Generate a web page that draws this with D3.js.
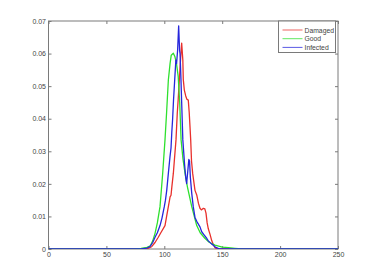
<!DOCTYPE html>
<html><head><meta charset="utf-8">
<script src="https://cdn.jsdelivr.net/npm/d3@7"></script>
<style>body{margin:0;background:#fff}svg{display:block}text{font-family:"Liberation Sans",Arial,sans-serif}</style>
</head><body><svg id="c" width="374" height="280"></svg>
<script>
const seriesNames = ["Damaged", "Good", "Infected"];
const seriesColors = ["#e8302c", "#2ee02e", "#2626dc"];
const xTicks = [0, 50, 100, 150, 200, 250];
const yTicks = [0, 0.01, 0.02, 0.03, 0.04, 0.05, 0.06, 0.07];
const yTickLabels = ["0", "0.01", "0.02", "0.03", "0.04", "0.05", "0.06", "0.07"];

const damaged = [[0,0],[82,0],[86,0.0002],[89.1,0.0007],[92,0.002],[94.8,0.0036],[97,0.005],[100.6,0.0072],[102,0.01],[103.5,0.013],[104.5,0.015],[105,0.016],[105.8,0.0165],[106.5,0.019],[107.8,0.0232],[108.7,0.0273],[110.1,0.0335],[111.2,0.0417],[112,0.046],[113,0.052],[114,0.058],[115,0.0632],[116,0.058],[116.4,0.052],[117.3,0.0488],[118.5,0.047],[119.5,0.046],[120.7,0.0457],[121.5,0.042],[122.2,0.0375],[122.8,0.0335],[123.5,0.027],[124.5,0.0232],[126.5,0.018],[128,0.0166],[129.5,0.014],[130.8,0.0125],[132,0.012],[133.7,0.0125],[135,0.0123],[136,0.011],[137,0.008],[138,0.0062],[139.5,0.0045],[141,0.0025],[142.5,0.0012],[144,0.0003],[146,0],[255,0]];
const good = [[0,0],[75,0],[80,0.0002],[85,0.0005],[88,0.001],[90,0.0025],[92,0.0048],[94,0.008],[96.3,0.013],[98.6,0.0232],[100.6,0.0335],[102,0.042],[103.5,0.0519],[105,0.057],[106,0.0595],[107.8,0.0601],[109.2,0.059],[110.5,0.057],[112,0.053],[113.3,0.045],[114.5,0.0335],[116,0.028],[117.9,0.0232],[120,0.019],[123.7,0.013],[128,0.0072],[131,0.005],[135,0.0033],[139,0.002],[143.8,0.0012],[150,0.0006],[155.3,0.0004],[161,0.0002],[166.8,0],[255,0]];
const infected = [[0,0],[80,0],[85,0.0003],[87.6,0.0007],[90,0.002],[92,0.0036],[94,0.005],[96.3,0.0072],[98,0.0095],[100,0.013],[101,0.015],[102.1,0.018],[103.5,0.0232],[104.9,0.0283],[105.8,0.031],[106.5,0.036],[107.2,0.04],[108,0.046],[109,0.052],[110,0.058],[110.6,0.057],[111.5,0.061],[112.4,0.0685],[113.2,0.061],[113.6,0.06],[114.4,0.052],[115,0.045],[116,0.0335],[117.5,0.026],[118.5,0.022],[119.3,0.0201],[120.3,0.024],[121.2,0.0275],[121.8,0.027],[122.5,0.022],[123.7,0.0171],[125,0.013],[126.5,0.0097],[128,0.0085],[130.8,0.0068],[132.3,0.0053],[134,0.0045],[136.6,0.0033],[138,0.0025],[141,0.0015],[142.3,0.0012],[144,0.0006],[146.6,0.0002],[148,0],[255,0]];
const allSeries = [damaged, good, infected];

const svg = d3.select("#c");
const L = 48.5, R = 338, T = 21, B = 249;
const x = d3.scaleLinear().domain([0, 250]).range([L, R]);
const y = d3.scaleLinear().domain([0, 0.07]).range([B, T]);
const axisColor = "#7a7a7a", textColor = "#444";

svg.append("defs").append("clipPath").attr("id","clip")
  .append("rect").attr("x", L).attr("y", T).attr("width", R-L).attr("height", B-T);

function styleAxis(g){
  g.selectAll(".domain").remove();
  g.selectAll("line").attr("stroke", axisColor);
  g.selectAll("text").attr("fill", textColor).attr("font-size", 7);
}
svg.append("g").attr("transform",`translate(0,${B})`)
  .call(d3.axisBottom(x).tickValues(xTicks).tickSizeInner(-3).tickSizeOuter(0).tickPadding(3.5).tickFormat(d3.format("d")))
  .call(styleAxis);
svg.append("g").attr("transform",`translate(0,${T})`)
  .call(d3.axisTop(x).tickValues(xTicks).tickSizeInner(-3).tickSizeOuter(0).tickFormat(""))
  .call(styleAxis);
svg.append("g").attr("transform",`translate(${L},0)`)
  .call(d3.axisLeft(y).tickValues(yTicks).tickSizeInner(-3).tickSizeOuter(0).tickPadding(2.5).tickFormat((d,i)=>yTickLabels[i]))
  .call(styleAxis);
svg.append("g").attr("transform",`translate(${R},0)`)
  .call(d3.axisRight(y).tickValues(yTicks).tickSizeInner(-3).tickSizeOuter(0).tickFormat(""))
  .call(styleAxis);

svg.append("rect").attr("x", L).attr("y", T).attr("width", R-L).attr("height", B-T)
  .attr("fill","none").attr("stroke", axisColor).attr("stroke-width", 1);

const line = d3.line().x(d=>x(d[0])).y(d=>y(d[1]));
const plot = svg.append("g").attr("clip-path","url(#clip)");
allSeries.forEach((s,i)=>{
  plot.append("path").datum(s).attr("d", line).attr("fill","none")
    .attr("stroke", seriesColors[i]).attr("stroke-width", 1.3).attr("stroke-linejoin","round");
});

const lg = svg.append("g");
lg.append("rect").attr("x", 278.5).attr("y", 21).attr("width", 57).attr("height", 31.5)
  .attr("fill","#fff").attr("stroke", axisColor).attr("stroke-width", 1);
seriesNames.forEach((n,i)=>{
  const yy = 30 + i*8.7;
  lg.append("line").attr("x1",282.5).attr("x2",302.5).attr("y1",yy).attr("y2",yy)
    .attr("stroke", seriesColors[i]).attr("stroke-width",1).attr("opacity",0.75);
  lg.append("text").attr("x",304.5).attr("y",yy+2.5).attr("font-size",6.8).attr("fill",textColor).text(n);
});
</script></body></html>
